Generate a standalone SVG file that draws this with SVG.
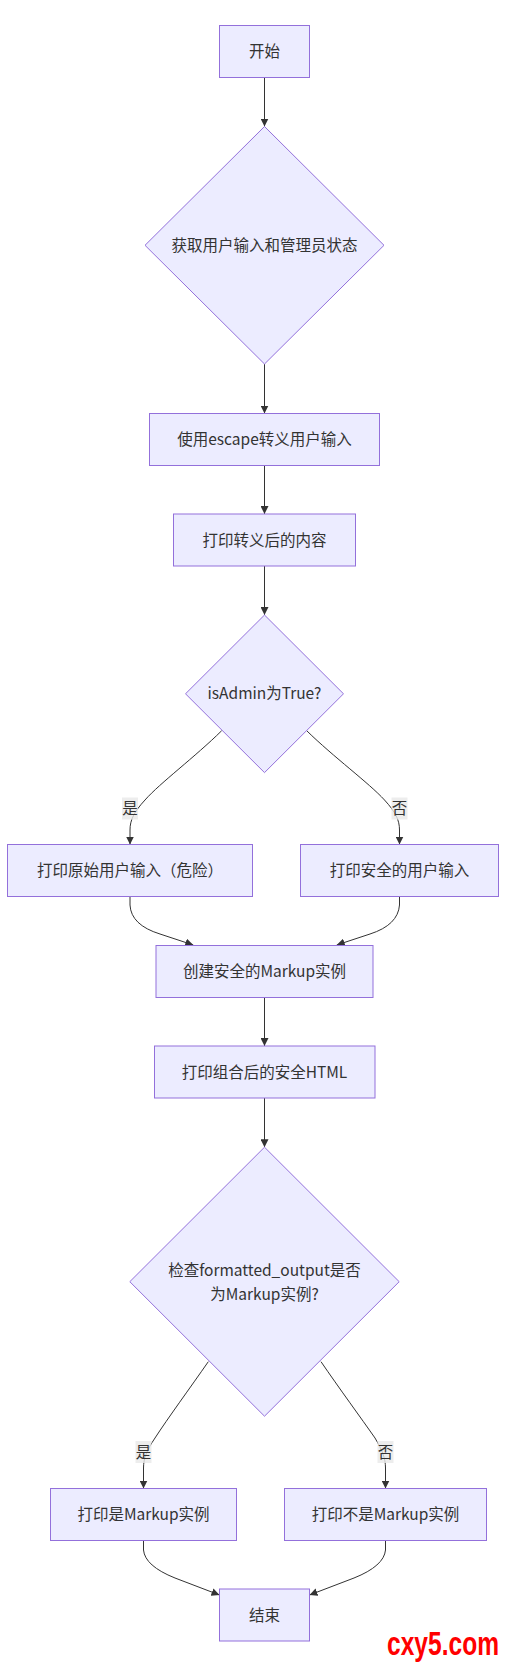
<svg xmlns="http://www.w3.org/2000/svg" width="506" height="1667" viewBox="0 0 506 1667">
<style>
.node rect,.node polygon{fill:#ECECFF;stroke:#9370DB;stroke-width:1}
.node text{font-family:"Noto Sans CJK SC","Liberation Sans",sans-serif;font-size:15.5px;fill:#333;text-anchor:middle}
.edge path{fill:none;stroke:#333;stroke-width:1}
.lbl rect{fill:#e8e8e8;opacity:0.8}
.lbl text{font-family:"Noto Sans CJK SC","Liberation Sans",sans-serif;font-size:15.5px;fill:#333;text-anchor:middle}
</style>
<defs>
<marker id="arr" viewBox="0 0 10 10" refX="10" refY="5" markerWidth="8" markerHeight="8" markerUnits="userSpaceOnUse" orient="auto">
<path d="M0,0 L10,5 L0,10 z" fill="#333"/>
</marker>
</defs>
<rect width="506" height="1667" fill="#fff"/>
<g id="connectors" class="edge">
<path d="M264.5,77.5 L264.5,126.5" marker-end="url(#arr)"/>
<path d="M264.5,364 L264.5,413.5" marker-end="url(#arr)"/>
<path d="M264.5,465.5 L264.5,514" marker-end="url(#arr)"/>
<path d="M264.5,566 L264.5,615" marker-end="url(#arr)"/>
<path d="M221.7,730.7 C195,757 160,783 145,800 C134,812 130,820 130,830 L130,844.5" marker-end="url(#arr)"/>
<path d="M306.7,730.7 C333.5,757 369,783 384.5,800 C395.5,812 399.5,820 399.5,830 L399.5,844.5" marker-end="url(#arr)"/>
<path d="M130,896.5 L130,905 Q131,925 160,934 L193.3,945" marker-end="url(#arr)"/>
<path d="M399.5,896.5 L399.5,905 Q398,925 370,934 L336.7,945" marker-end="url(#arr)"/>
<path d="M264.5,997.5 L264.5,1046" marker-end="url(#arr)"/>
<path d="M264.5,1098 L264.5,1147.2" marker-end="url(#arr)"/>
<path d="M208.3,1361.7 C190,1388 168,1418 155,1438 C147,1450 143.5,1458 143.5,1468 L143.5,1488.5" marker-end="url(#arr)"/>
<path d="M321,1361.7 C339,1388 361,1418 375,1438 C382,1450 385.5,1458 385.5,1468 L385.5,1488.5" marker-end="url(#arr)"/>
<path d="M143.5,1540.5 L143.5,1550 Q145,1566 175,1578 L219.5,1595" marker-end="url(#arr)"/>
<path d="M385.5,1540.5 L385.5,1550 Q384,1566 354,1578 L309.5,1595" marker-end="url(#arr)"/>
</g>
<g id="labels">
<g class="lbl"><rect x="122" y="797.5" width="16" height="22"/><text x="130" y="814">是</text></g>
<g class="lbl"><rect x="391.5" y="797.5" width="16" height="22"/><text x="399.5" y="814">否</text></g>
<g class="lbl"><rect x="135.5" y="1441" width="16" height="22"/><text x="143.5" y="1457.5">是</text></g>
<g class="lbl"><rect x="377.5" y="1441" width="16" height="22"/><text x="385.5" y="1457.5">否</text></g>
</g>
<g id="start" class="node"><rect x="219.5" y="25.5" width="90" height="52"/><text x="264.5" y="57">开始</text></g>
<g id="getInput" class="node"><polygon points="264.5,126.5 384,245.3 264.5,364 145,245.3"/><text x="264.5" y="250.8">获取用户输入和管理员状态</text></g>
<g id="escape" class="node"><rect x="149.5" y="413.5" width="230" height="52"/><text x="264.5" y="445">使用escape转义用户输入</text></g>
<g id="printEscaped" class="node"><rect x="173.5" y="514" width="182" height="52"/><text x="264.5" y="545.5">打印转义后的内容</text></g>
<g id="isAdmin" class="node"><polygon points="264.5,615 343.5,693.8 264.5,772.6 185.5,693.8"/><text x="264.5" y="699.3">isAdmin为True?</text></g>
<g id="printRaw" class="node"><rect x="7.5" y="844.5" width="245" height="52"/><text x="130" y="876">打印原始用户输入（危险）</text></g>
<g id="printSafe" class="node"><rect x="300.5" y="844.5" width="198" height="52"/><text x="399.5" y="876">打印安全的用户输入</text></g>
<g id="createMarkup" class="node"><rect x="156" y="945.5" width="217" height="52"/><text x="264.5" y="977">创建安全的Markup实例</text></g>
<g id="printHtml" class="node"><rect x="154.5" y="1046" width="220.5" height="52"/><text x="264.5" y="1077.5">打印组合后的安全HTML</text></g>
<g id="checkMarkup" class="node"><polygon points="264.5,1147.2 399.2,1281.7 264.5,1416.2 129.8,1281.7"/><text x="264.5" y="1275.5">检查formatted_output是否</text><text x="264.5" y="1299.5">为Markup实例?</text></g>
<g id="printIs" class="node"><rect x="50.5" y="1488.5" width="186" height="52"/><text x="143.5" y="1520">打印是Markup实例</text></g>
<g id="printNot" class="node"><rect x="284.5" y="1488.5" width="202" height="52"/><text x="385.5" y="1520">打印不是Markup实例</text></g>
<g id="end" class="node"><rect x="219.5" y="1589" width="90" height="52"/><text x="264.5" y="1620.5">结束</text></g>
<text x="387" y="1655" font-family="'Liberation Sans',sans-serif" font-weight="bold" font-size="33" fill="#f00" textLength="112" lengthAdjust="spacingAndGlyphs">cxy5.com</text>
</svg>
